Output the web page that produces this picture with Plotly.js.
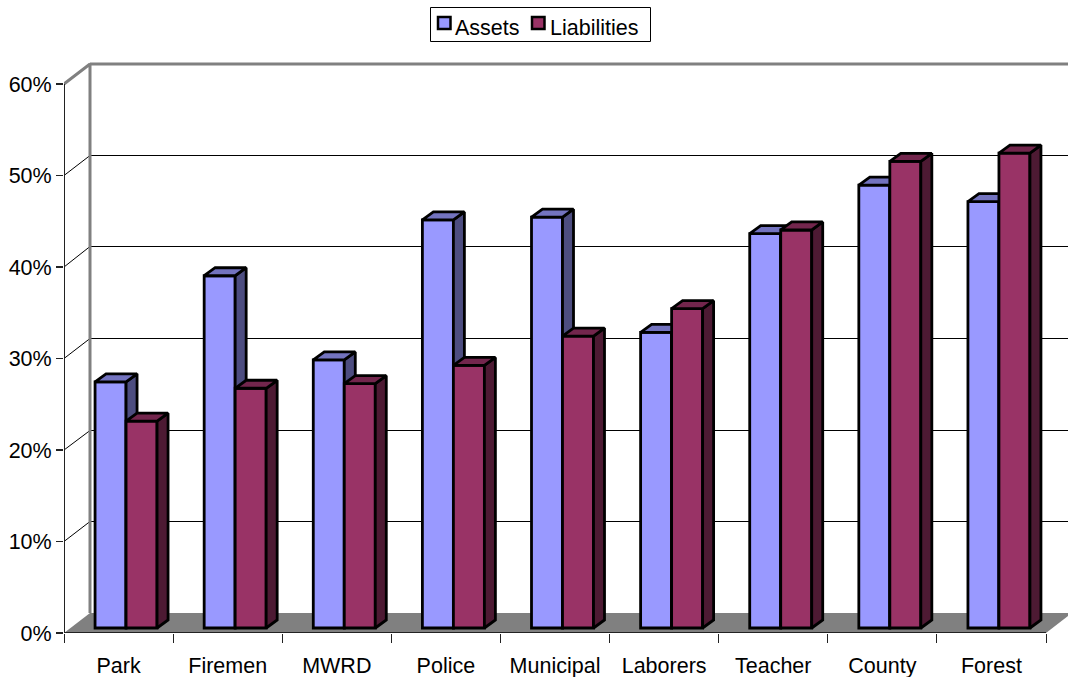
<!DOCTYPE html>
<html>
<head>
<meta charset="utf-8">
<script src="https://cdn.plot.ly/plotly-3.0.1.min.js"></script>
<style>html,body{margin:0;padding:0;background:#fff;overflow:hidden}</style>
</head>
<body>
<div id="chart" style="width:1068px;height:677px"></div>
<script>
const categories = ["Park","Firemen","MWRD","Police","Municipal","Laborers","Teacher","County","Forest"];
const assets = [26.9,38.5,29.3,44.6,44.9,32.3,43.1,48.4,46.6];
const liabilities = [22.6,26.2,26.7,28.7,31.9,34.9,43.5,51.0,51.9];
const yTicks = [0,10,20,30,40,50,60];
const gridVals = [10,20,30,40,50];

const W = 1068, H = 677, L = 64, T = 60, B = 44;
const pxX = 982 / 9, pxY = 549 / 60;
const xMax = (W - L) / pxX, yMax = (H - B - T) / pxY;
const wallDx = 26 / pxX, wallDy = 20 / pxY;
const barW = 31 / pxX, barShift = 7.5 / pxX, barBase = 5 / pxY;
const sideDx = 11 / pxX, sideDy = 8 / pxY;
const GRAY = "#808080", OUTLINE = 2.8;

// keep thin gridlines crisp: snap to a pixel centre
function snap(v) {
  const py = T + (yMax - v) * pxY;
  return yMax - (Math.floor(py) + 0.5 - T) / pxY;
}
function paperX(px) { return (px - L) / (W - L); }
function paperY(px) { return (H - B - px) / (H - B - T); }

function polyTrace(xs, ys, fill, xa, ya) {
  return {type:"scatter", mode:"lines", x:xs, y:ys, fill:"toself", fillcolor:fill,
    line:{color:"#000", width:OUTLINE}, hoverinfo:"skip", showlegend:false, xaxis:xa, yaxis:ya};
}
function faces(vals, off) {
  const sx=[], sy=[], tx=[], ty=[];
  vals.forEach((v,i)=>{
    const l = i + 0.5 + barShift + off, r = l + barW, top = v + barBase;
    sx.push(r, r+sideDx, r+sideDx, r, r, null);
    sy.push(barBase, barBase+sideDy, top+sideDy, top, barBase, null);
    tx.push(l, l+sideDx, r+sideDx, r, l, null);
    ty.push(top, top+sideDy, top+sideDy, top, top, null);
  });
  return {sx,sy,tx,ty};
}
function barTrace(name, vals, off, color, xa, ya) {
  return {type:"bar", name, x:categories.map((c,i)=>i+0.5+barShift), y:vals, base:barBase,
    offset:off, width:barW, marker:{color, line:{color:"#000", width:OUTLINE}},
    hoverinfo:"skip", showlegend:false, xaxis:xa, yaxis:ya};
}

const traces = [];
// floor
traces.push({type:"scatter", mode:"lines", x:[0,wallDx,9+wallDx,9,0], y:[0,wallDy,wallDy,0,0], fill:"toself",
  fillcolor:GRAY, line:{width:0}, hoverinfo:"skip", showlegend:false});
// gridlines on walls
const gx=[], gy=[];
gridVals.forEach(v=>{ gx.push(0,wallDx,xMax+1,null); gy.push(v,snap(v+wallDy),snap(v+wallDy),null); });
traces.push({type:"scatter", mode:"lines", x:gx, y:gy, line:{color:"#000", width:1}, hoverinfo:"skip", showlegend:false});
// gray wall outline, with the gray 60% tick
traces.push({type:"scatter", mode:"lines",
  x:[wallDx,wallDx,0,-7/pxX,null,wallDx,xMax+1], y:[wallDy,60+wallDy,60,60,null,60+wallDy,60+wallDy],
  line:{color:GRAY, width:3}, hoverinfo:"skip", showlegend:false, cliponaxis:false});
// front axis lines
traces.push({type:"scatter", mode:"lines", x:[0,0,9], y:[60,0,0], line:{color:"#222", width:2},
  hoverinfo:"skip", showlegend:false, cliponaxis:false});

// Assets layer
const fa = faces(assets, -barW);
traces.push(barTrace("Assets", assets, -barW, "#9999FF", "x2", "y2"));
traces.push(polyTrace(fa.sx, fa.sy, "#4D4D80", "x2", "y2"));
traces.push(polyTrace(fa.tx, fa.ty, "#7373BF", "x2", "y2"));
// Liabilities layer
const fl = faces(liabilities, 0);
traces.push(barTrace("Liabilities", liabilities, 0, "#993366", "x3", "y3"));
traces.push(polyTrace(fl.sx, fl.sy, "#4D1A33", "x3", "y3"));
traces.push(polyTrace(fl.tx, fl.ty, "#73264D", "x3", "y3"));

const hiddenX = {range:[0,xMax], visible:false, overlaying:"x", fixedrange:true};
const hiddenY = {range:[0,yMax], visible:false, overlaying:"y", fixedrange:true};

// legend box, swatches and labels
const seriesNames = ["Assets","Liabilities"];
const seriesColors = ["#9999FF","#993366"];
const swatchLeft = [438,532], labelLeft = [454,549];
const shapes = [{type:"rect", xref:"paper", yref:"paper", x0:paperX(430.5), x1:paperX(650.5), y0:paperY(7.5), y1:paperY(41.5),
  line:{color:"#000", width:1}, fillcolor:"#fff"}];
const annotations = [];
seriesNames.forEach((n,i)=>{
  shapes.push({type:"rect", xref:"paper", yref:"paper", x0:paperX(swatchLeft[i]), x1:paperX(swatchLeft[i]+12.5),
    y0:paperY(17), y1:paperY(29), line:{color:"#000", width:2.5}, fillcolor:seriesColors[i]});
  annotations.push({text:n, xref:"paper", yref:"paper", x:paperX(labelLeft[i]), y:paperY(28), xanchor:"left", yanchor:"middle",
    showarrow:false, borderpad:0, font:{size:21.5, color:"#000"}});
});

const layout = {
  width:W, height:H, margin:{l:L, r:0, t:T, b:B}, paper_bgcolor:"#fff", plot_bgcolor:"#fff",
  font:{family:"Liberation Sans, Arial, sans-serif", size:21.5, color:"#000"},
  showlegend:false, shapes, annotations,
  xaxis:{range:[0,xMax], tickmode:"array", tickvals:categories.map((c,i)=>i+0.5), ticktext:categories,
    ticks:"outside", ticklen:13, tickwidth:1, tickcolor:"rgba(0,0,0,0)", showgrid:false, zeroline:false, showline:false, fixedrange:true,
    tickfont:{size:21.5},
    minor:{tick0:0, dtick:1, ticks:"outside", ticklen:9, tickwidth:1, tickcolor:"#222", showgrid:false}},
  yaxis:{range:[0,yMax], tickmode:"array", tickvals:yTicks, ticktext:yTicks.map(v=>v+"%"),
    ticks:"outside", ticklen:7, tickwidth:1.5, tickcolor:"#222", showgrid:false, zeroline:false, showline:false, fixedrange:true,
    tickfont:{size:21.5}},
  xaxis2:hiddenX, yaxis2:hiddenY, xaxis3:hiddenX, yaxis3:hiddenY
};
Plotly.newPlot("chart", traces, layout, {displayModeBar:false, staticPlot:true});
</script>
</body>
</html>
